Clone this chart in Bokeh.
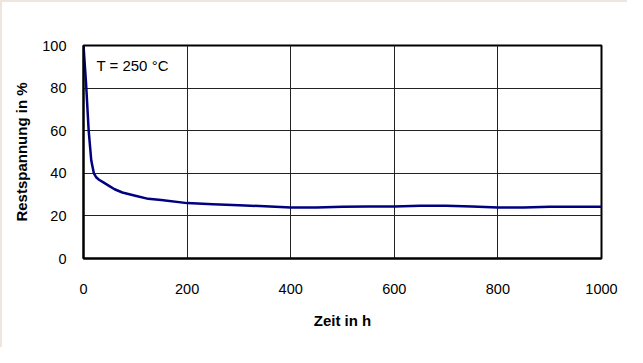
from bokeh.plotting import figure
from bokeh.models import Range1d, FixedTicker, Label
from bokeh.embed import file_html
from bokeh.resources import INLINE

# Data
zeit_h = [0, 5, 10, 15, 20, 25, 30, 40, 50, 60, 75, 100, 125, 150, 200, 250,
          300, 350, 400, 450, 500, 550, 600, 650, 700, 750, 800, 850, 900, 950, 1000]
restspannung = [100, 82, 60, 46, 40, 38, 37, 35.5, 34, 32.5, 31, 29.5, 28, 27.5, 26, 25.5,
                25, 24.5, 24, 24, 24.3, 24.4, 24.4, 24.8, 24.8, 24.4, 24, 24, 24.3, 24.3, 24.3]
x_ticks = [0, 200, 400, 600, 800, 1000]
y_ticks = [0, 20, 40, 60, 80, 100]
annotation = "T = 250 °C"

FONT = "Liberation Sans"

p = figure(width=627, height=347, output_backend="svg", toolbar_location=None,
           x_range=Range1d(0, 1000), y_range=Range1d(0, 100),
           min_border_left=81, min_border_top=43, min_border_right=28, min_border_bottom=91)
p.background_fill_color = "white"
p.border_fill_color = "white"
p.outline_line_color = "black"
p.outline_line_width = 2

p.styles = {"border-top": "2px solid #EEE5DC", "border-left": "2px solid #EEE5DC",
            "box-sizing": "border-box"}

for ax in (p.xaxis[0], p.yaxis[0]):
    ax.axis_line_color = "black"
    ax.axis_line_width = 2
    ax.major_tick_line_color = None
    ax.minor_tick_line_color = None
    ax.major_label_text_font = FONT
    ax.major_label_text_font_size = "14.5px"
    ax.major_label_text_color = "black"
    ax.axis_label_text_font = FONT
    ax.axis_label_text_font_size = "15px"
    ax.axis_label_text_font_style = "bold"
    ax.axis_label_text_color = "black"

p.xaxis.ticker = FixedTicker(ticks=x_ticks)
p.yaxis.ticker = FixedTicker(ticks=y_ticks)
p.xaxis.axis_label = "Zeit in h"
p.yaxis.axis_label = "Restspannung in %"
p.xaxis.major_label_standoff = 19
p.yaxis.major_label_standoff = 11
p.xaxis.axis_label_standoff = 15
p.yaxis.axis_label_standoff = 9

p.xgrid.ticker = FixedTicker(ticks=x_ticks)
p.ygrid.ticker = FixedTicker(ticks=y_ticks)
p.xgrid.grid_line_color = "#222222"
p.ygrid.grid_line_color = "#222222"
p.xgrid.grid_line_width = 1
p.ygrid.grid_line_width = 1

p.line(zeit_h, restspannung, line_color="#000080", line_width=2.5)

p.add_layout(Label(x=25, y=90.5, text=annotation, text_font=FONT, text_font_size="15px",
                   text_color="black", text_baseline="middle", text_align="left"))

open("out.html", "w").write(file_html(p, INLINE))
